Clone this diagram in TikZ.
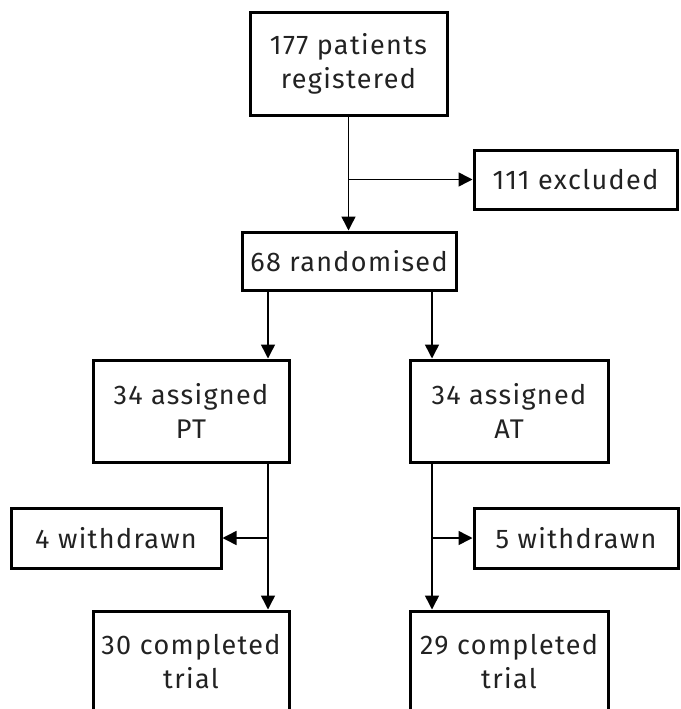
\documentclass[tikz,border=0pt]{standalone}
\usepackage{fontspec}
\setmainfont[LetterSpace=5]{Fira Sans}
\usetikzlibrary{arrows.meta}
\definecolor{txt}{HTML}{222222}
\begin{document}
\begin{tikzpicture}[x=1pt,y=-1pt,
  box/.style={draw, line width=3pt, align=center, inner sep=0pt,
    font=\fontsize{27}{34}\selectfont, text=txt},
  arr/.style={line width=1.5pt, -{Triangle[length=14pt,width=14pt]}}]
\useasboundingbox (0,0) rectangle (680,709);
\clip (0,0) rectangle (680,709);
\node[box, minimum width=197pt, minimum height=102pt] (reg) at (348.5,64) {177 patients\\registered};
\node[box, minimum width=203pt, minimum height=59pt] (exc) at (575.5,179.5) {111 excluded};
\node[box, minimum width=214pt, minimum height=58pt] (ran) at (349,261) {68 randomised};
\node[box, minimum width=196pt, minimum height=102pt] (pt) at (191,411) {34 assigned\\PT};
\node[box, minimum width=198pt, minimum height=102pt] (at) at (509,411) {34 assigned\\AT};
\node[box, minimum width=210pt, minimum height=60pt] (wpt) at (116,538) {4 withdrawn};
\node[box, minimum width=204pt, minimum height=60pt] (wat) at (576,538) {5 withdrawn};
\node[box, minimum width=196pt, minimum height=102pt] (cpt) at (191,662) {30 completed\\trial};
\node[box, minimum width=198pt, minimum height=102pt] (cat) at (509,662) {29 completed\\trial};
% connectors
\coordinate (b1) at (reg.south |- exc.west);
\draw[arr] (reg.south) -- (reg.south |- ran.north);
\draw[arr] (b1) -- (exc.west);
\coordinate (ptx) at (268,0);
\coordinate (atx) at (432,0);
\draw[arr] (ran.south -| ptx) -- (pt.north -| ptx);
\draw[arr] (ran.south -| atx) -- (at.north -| atx);
\draw[arr] (pt.south -| ptx) -- (cpt.north -| ptx);
\draw[arr] (at.south -| atx) -- (cat.north -| atx);
\draw[arr] (wpt.east -| ptx) -- (wpt.east);
\draw[arr] (wat.west -| atx) -- (wat.west);
\end{tikzpicture}
\end{document}
